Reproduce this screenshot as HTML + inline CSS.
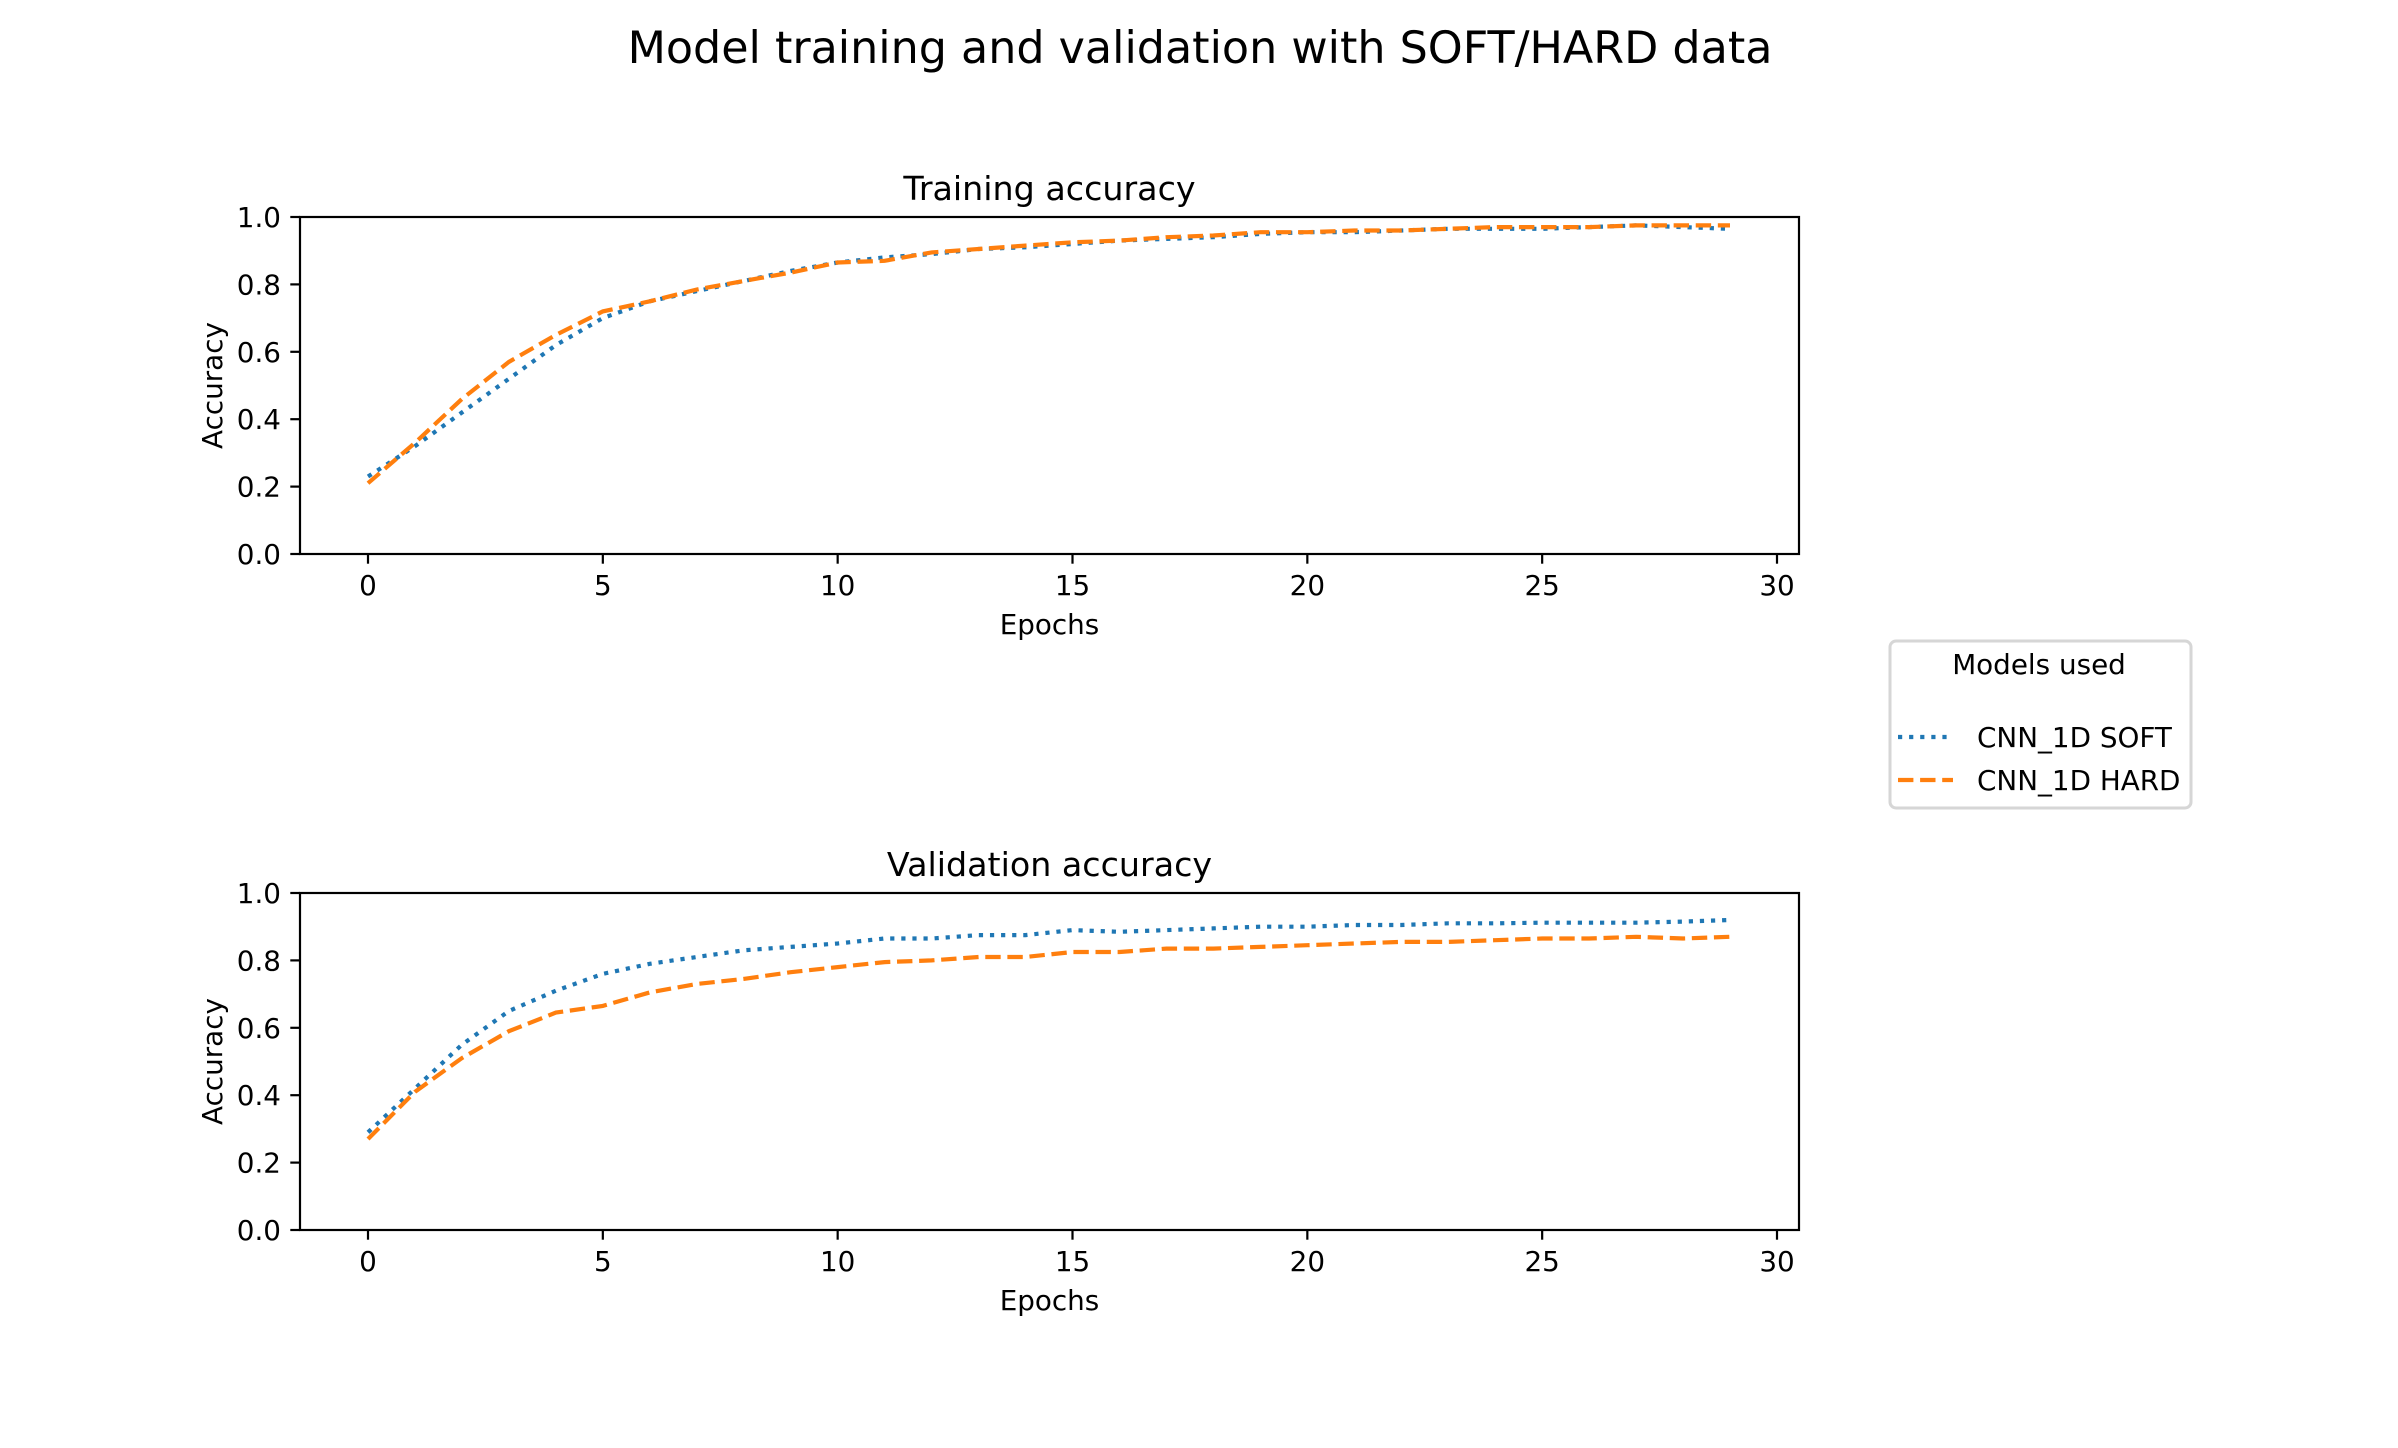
<!DOCTYPE html>
<html><head><meta charset="utf-8">
<style>
html,body{margin:0;padding:0;background:#fff;}
svg{display:block;font-family:"DejaVu Sans","Liberation Sans",sans-serif;}
</style></head>
<body>
<svg id="fig" width="2398" height="1448" viewBox="0 0 2398 1448" xmlns="http://www.w3.org/2000/svg">
<rect width="2398" height="1448" fill="#fff"/>
<text x="1200" y="63" font-size="44.4" text-anchor="middle">Model training and validation with SOFT/HARD data</text>
<g>
<rect x="1890" y="641" width="301" height="167" rx="6" fill="#fff" stroke="#d6d6d6" stroke-width="3"/>
<text x="2039" y="674" font-size="27.8" text-anchor="middle">Models used</text>
<g>
<line x1="1898" y1="737" x2="1953" y2="737" stroke="#1f77b4" stroke-width="4.2" stroke-dasharray="4.2,6.9"/>
<text x="1977" y="747" font-size="27.8">CNN_1D SOFT</text></g>
<g>
<line x1="1898" y1="780" x2="1953" y2="780" stroke="#ff7f0e" stroke-width="4.2" stroke-dasharray="15.4,6.7"/>
<text x="1977" y="790" font-size="27.8">CNN_1D HARD</text></g>
</g>
</svg>
<script>
const epochs = [0,1,2,3,4,5,6,7,8,9,10,11,12,13,14,15,16,17,18,19,20,21,22,23,24,25,26,27,28,29];
const trainSoft = [0.23,0.32,0.42,0.52,0.62,0.70,0.75,0.78,0.81,0.84,0.865,0.88,0.89,0.905,0.91,0.92,0.93,0.935,0.94,0.95,0.955,0.955,0.96,0.965,0.965,0.965,0.97,0.975,0.97,0.965];
const trainHard = [0.21,0.33,0.46,0.57,0.65,0.72,0.75,0.785,0.81,0.835,0.865,0.87,0.895,0.905,0.915,0.925,0.93,0.94,0.945,0.955,0.955,0.96,0.96,0.965,0.97,0.97,0.97,0.975,0.975,0.975];
const valSoft = [0.29,0.42,0.55,0.65,0.71,0.76,0.79,0.81,0.83,0.84,0.85,0.865,0.865,0.875,0.875,0.89,0.885,0.89,0.895,0.9,0.9,0.905,0.905,0.91,0.91,0.912,0.912,0.912,0.915,0.92];
const valHard = [0.27,0.41,0.51,0.59,0.645,0.665,0.705,0.73,0.745,0.765,0.78,0.795,0.80,0.81,0.81,0.825,0.825,0.835,0.835,0.84,0.845,0.85,0.855,0.855,0.86,0.865,0.865,0.87,0.865,0.87];
const xTicks = [0,5,10,15,20,25,30];
const yTicks = [0.0,0.2,0.4,0.6,0.8,1.0];
const panelTitles = ["Training accuracy","Validation accuracy"];

const NS = "http://www.w3.org/2000/svg";
const svg = document.getElementById('fig');
function mk(tag, attrs, parent){
  const e = document.createElementNS(NS, tag);
  for (const k in attrs) e.setAttribute(k, attrs[k]);
  (parent||svg).appendChild(e);
  return e;
}
function panel(top, title, soft, hard, key){
  const L=300, R=1799, T=top, B=top+337;
  const x = v => 368 + (v-0)*(1777-368)/30;
  const y = v => B - v*(B-T);
  const g = mk('g', {});
  
  
  const t = mk('text', {x:(L+R)/2, y:T-17, 'font-size':33.3, 'text-anchor':'middle'}, g);
  t.textContent = title;
  
  
  yTicks.forEach(v=>{
    mk('line',{x1:L-9.7,x2:L,y1:y(v),y2:y(v),stroke:'#000','stroke-width':2.2},g);
    const tl = mk('text',{x:L-19,y:y(v)+10,'font-size':27.8,'text-anchor':'end'},g);
    tl.textContent = v.toFixed(1);
    
    
  });
  xTicks.forEach(v=>{
    mk('line',{x1:x(v),x2:x(v),y1:B,y2:B+9.7,stroke:'#000','stroke-width':2.2},g);
    const tl = mk('text',{x:x(v),y:B+41,'font-size':27.8,'text-anchor':'middle'},g);
    tl.textContent = v;
    
    
  });
  const xl = mk('text',{x:(L+R)/2,y:B+80,'font-size':27.8,'text-anchor':'middle'},g);
  xl.textContent='Epochs';
  
  
  const yl = mk('text',{x:0,y:0,'font-size':27.8,'text-anchor':'middle',transform:`translate(222,${(T+B)/2}) rotate(-90)`},g);
  yl.textContent='Accuracy';
  
  
  const pts = arr => arr.map((v,i)=>x(epochs[i]).toFixed(1)+','+y(v).toFixed(1)).join(' ');
  const ls = mk('polyline',{points:pts(soft),fill:'none',stroke:'#1f77b4','stroke-width':4.2,'stroke-dasharray':'4.2,6.9'},g);
  
  
  const lh = mk('polyline',{points:pts(hard),fill:'none',stroke:'#ff7f0e','stroke-width':4.2,'stroke-dasharray':'15.4,6.7'},g);
  
  
  mk('rect',{x:L,y:T,width:R-L,height:B-T,fill:'none',stroke:'#000','stroke-width':2.2},g);
}
panel(217, panelTitles[0], trainSoft, trainHard, 'training');
panel(893, panelTitles[1], valSoft, valHard, 'validation');
</script>
</body></html>
